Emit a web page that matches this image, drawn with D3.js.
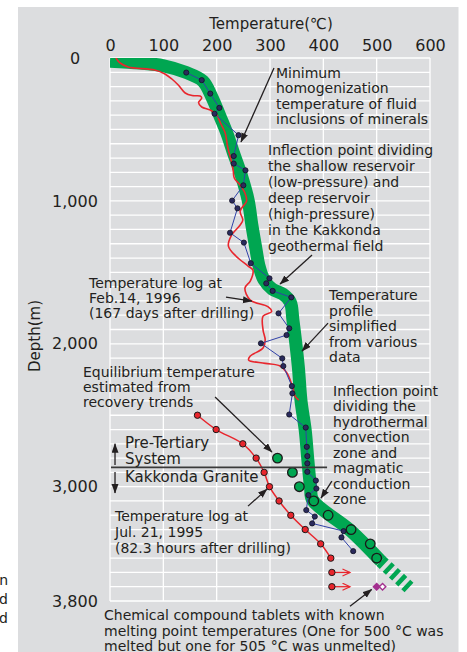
<!DOCTYPE html>
<html>
<head>
<meta charset="utf-8">
<script src="https://cdn.jsdelivr.net/npm/d3@7"></script>
<style>
  html, body { margin: 0; padding: 0; background: #ffffff; }
  svg { display: block; font-family: "DejaVu Sans", "Noto Sans CJK JP", sans-serif; }
</style>
</head>
<body>
<svg id="chart" width="467" height="652"></svg>
<script>
// ---- axes ----
const tempTicks = [0, 100, 200, 300, 400, 500, 600];
const depthTicks = [0, 1000, 2000, 3000, 3800];
const depthTickLabels = ["0", "1,000", "2,000", "3,000", "3,800"];

// ---- simplified temperature profile (°C, m) ----
const profileTemp  = [0, 56, 99, 143, 174, 191, 206, 219, 231, 246, 259, 266, 274, 279, 289, 304, 324, 338, 343, 353, 358, 366, 371, 376, 380, 450, 508];
const profileDepth = [22, 35, 53, 102, 161, 273, 406, 525, 658, 819, 994, 1169, 1344, 1449, 1554, 1617, 1652, 1708, 1834, 2156, 2394, 2604, 2814, 3003, 3094, 3304, 3521];
// inferred continuation below the last data (dashed)
const profileExtTemp  = [508, 562];
const profileExtDepth = [3521, 3710];

// ---- temperature log, Feb. 14, 1996 ----
const logFebTemp  = [11, 19, 34, 84, 103, 116, 128, 141, 154, 169, 172, 166, 172, 188, 199, 208, 216, 221, 227, 231, 233, 244, 253, 256, 244, 249, 244, 227, 222, 236, 259, 268, 263, 253, 263, 296, 303, 287, 287, 291, 287, 263, 260, 291, 319, 332, 343, 347, 354];
const logFebDepth = [0, 35, 63, 84, 112, 147, 189, 245, 263, 266, 280, 312, 343, 364, 392, 462, 525, 630, 714, 784, 840, 889, 945, 1001, 1071, 1134, 1169, 1246, 1316, 1386, 1456, 1484, 1561, 1610, 1694, 1740, 1775, 1806, 1904, 1974, 2030, 2086, 2114, 2137, 2156, 2205, 2310, 2366, 2394];

// ---- minimum homogenization temperature of fluid inclusions ----
const fiTemp  = [143, 172, 188, 205, 196, 241, 232, 232, 254, 250, 229, 239, 225, 251, 264, 299, 293, 305, 340, 316, 336, 331, 283, 323, 325, 341, 342, 336, 367, 369, 370, 370, 370, 386, 387, 372, 368, 384, 379, 438, 434, 456];
const fiDepth = [102, 155, 249, 349, 390, 540, 686, 739, 786, 891, 998, 1052, 1223, 1292, 1436, 1542, 1577, 1630, 1675, 1787, 1892, 1939, 1997, 2102, 2156, 2296, 2347, 2495, 2586, 2721, 2786, 2837, 2896, 2957, 3013, 3059, 3164, 3209, 3257, 3311, 3355, 3451];

// ---- temperature log, Jul. 21, 1995 ----
const logJulTemp  = [164, 199, 249, 274, 289, 299, 317, 339, 366, 395, 414, 416, 416];
const logJulDepth = [2500, 2600, 2700, 2800, 2900, 3000, 3100, 3200, 3300, 3400, 3500, 3600, 3700];
const logJulOpenEnded = [false, false, false, false, false, false, false, false, false, false, false, true, true];
const logJulArrowTo = 450;

// ---- equilibrium temperature from recovery trends ----
const eqTemp  = [314, 342, 355, 382, 409, 452, 488, 500];
const eqDepth = [2800, 2900, 3000, 3100, 3200, 3300, 3400, 3500];

// ---- melting-point tablets ----
const tabletTemp   = [500, 505];
const tabletDepth  = [3700, 3700];
const tabletMelted = [true, false];

// ---- geology ----
const granitTopDepth = 2865;
const granitLineEndTemp = 407;

// ---------------------------------------------------------------
const svg = d3.select("#chart");
const W = 467, H = 652;
const ink = "#231f20";
const green = "#00a651";
const red = "#e8262d";

const x = d3.scaleLinear().domain([0, 600]).range([110, 430]);
const y = d3.scaleLinear().domain([0, 3800]).range([58, 601]);

const defs = svg.append("defs");
defs.append("clipPath").attr("id", "plotClip")
  .append("rect").attr("x", x(0)).attr("y", y(0))
  .attr("width", x(600) - x(0)).attr("height", y(3800) - y(0));
defs.append("marker").attr("id", "headBlack")
  .attr("markerUnits", "userSpaceOnUse").attr("markerWidth", 10).attr("markerHeight", 8)
  .attr("refX", 9).attr("refY", 3.5).attr("orient", "auto")
  .append("path").attr("d", "M0,0 L9.5,3.5 L0,7 Z").attr("fill", ink);
defs.append("marker").attr("id", "headRed")
  .attr("markerUnits", "userSpaceOnUse").attr("markerWidth", 10).attr("markerHeight", 9)
  .attr("refX", 8).attr("refY", 4).attr("orient", "auto")
  .append("path").attr("d", "M0.5,0.5 L8,4 L0.5,7.5").attr("fill", "none")
  .attr("stroke", red).attr("stroke-width", 1.2);

// panel background
svg.append("rect").attr("x", 18).attr("y", 7).attr("width", 440.5).attr("height", H - 7)
  .attr("fill", "#dcdddf");

// grid
const grid = svg.append("g");
grid.selectAll("line.v").data(tempTicks).join("line")
  .attr("x1", d => x(d)).attr("x2", d => x(d))
  .attr("y1", y(0)).attr("y2", y(3800))
  .attr("stroke", "#ffffff").attr("stroke-width", 1.3);
grid.selectAll("line.h").data(d3.range(0, 3801, 100)).join("line")
  .attr("x1", x(0)).attr("x2", x(600))
  .attr("y1", d => y(d)).attr("y2", d => y(d))
  .attr("stroke", "#ffffff").attr("stroke-width", 1.3);

// top axis
const gx = svg.append("g").attr("transform", "translate(0,51)")
  .call(d3.axisTop(x).tickValues(tempTicks).tickSize(0).tickPadding(0));
gx.select(".domain").remove();
gx.selectAll("text").attr("font-size", 16).attr("fill", ink)
  .attr("font-family", "DejaVu Sans, sans-serif");

// left axis
const gy = svg.append("g")
  .call(d3.axisLeft(y).tickValues(depthTicks).tickSize(0)
    .tickFormat((d, i) => depthTickLabels[i]));
gy.select(".domain").remove();
gy.selectAll("text").attr("x", 75).attr("text-anchor", "middle")
  .attr("font-size", 16).attr("fill", ink).attr("font-family", "DejaVu Sans, sans-serif");

// axis titles
svg.append("text").attr("x", 271).attr("y", 29).attr("text-anchor", "middle")
  .attr("font-size", 15).attr("fill", ink).text("Temperature(℃)");
svg.append("text").attr("transform", "translate(40,336) rotate(-90)")
  .attr("text-anchor", "middle").attr("font-size", 15).attr("fill", ink).text("Depth(m)");

// plot layer
const plot = svg.append("g").attr("clip-path", "url(#plotClip)");

// simplified profile band
const bandLine = d3.line().x(d => x(d[0])).y(d => y(d[1])).curve(d3.curveCatmullRom.alpha(0.5));
plot.append("path").datum(profileTemp.map((t, i) => [t, profileDepth[i]]))
  .attr("d", bandLine).attr("fill", "none").attr("stroke", green)
  .attr("stroke-width", 13).attr("stroke-linejoin", "round");
plot.append("path").datum(profileExtTemp.map((t, i) => [t, profileExtDepth[i]]))
  .attr("d", d3.line().x(d => x(d[0])).y(d => y(d[1])))
  .attr("fill", "none").attr("stroke", green).attr("stroke-width", 13)
  .attr("stroke-dasharray", "4.5 4").attr("stroke-dashoffset", 8.5);

// temperature log Feb. 14, 1996
plot.append("path").datum(logFebTemp.map((t, i) => [t, logFebDepth[i]]))
  .attr("d", d3.line().x(d => x(d[0])).y(d => y(d[1])).curve(d3.curveCatmullRom.alpha(0.5)))
  .attr("fill", "none").attr("stroke", red).attr("stroke-width", 1.6);

// fluid inclusion temperatures
const fi = fiTemp.map((t, i) => [t, fiDepth[i]]);
plot.append("path").datum(fi)
  .attr("d", d3.line().x(d => x(d[0])).y(d => y(d[1])))
  .attr("fill", "none").attr("stroke", "#3142a8").attr("stroke-width", 1);
plot.selectAll("circle.fi").data(fi).join("circle")
  .attr("cx", d => x(d[0])).attr("cy", d => y(d[1])).attr("r", 2.6)
  .attr("fill", "#2a2a5c").attr("stroke", "#111122").attr("stroke-width", 0.8);

// temperature log Jul. 21, 1995
const jul = logJulTemp.map((t, i) => ({ t, d: logJulDepth[i], open: logJulOpenEnded[i] }));
plot.append("path").datum(jul.filter(p => !p.open))
  .attr("d", d3.line().x(p => x(p.t)).y(p => y(p.d)).curve(d3.curveCatmullRom.alpha(0.5)))
  .attr("fill", "none").attr("stroke", red).attr("stroke-width", 1.5);
plot.selectAll("line.open").data(jul.filter(p => p.open)).join("line")
  .attr("x1", p => x(p.t)).attr("x2", x(logJulArrowTo))
  .attr("y1", p => y(p.d)).attr("y2", p => y(p.d))
  .attr("stroke", red).attr("stroke-width", 1.3).attr("marker-end", "url(#headRed)");
plot.selectAll("circle.jul").data(jul).join("circle")
  .attr("cx", p => x(p.t)).attr("cy", p => y(p.d)).attr("r", 3.2)
  .attr("fill", red).attr("stroke", "#1a1a1a").attr("stroke-width", 1);

// equilibrium temperatures
plot.selectAll("circle.eq").data(eqTemp.map((t, i) => [t, eqDepth[i]])).join("circle")
  .attr("cx", d => x(d[0])).attr("cy", d => y(d[1])).attr("r", 4.8)
  .attr("fill", green).attr("stroke", "#1a1a1a").attr("stroke-width", 1.3);

// melting-point tablets (unmelted one dodged right so both stay visible)
const tablets = tabletTemp.map((t, i) => ({ t, d: tabletDepth[i], melted: tabletMelted[i] }));
plot.selectAll("path.tab").data(tablets).join("path")
  .attr("d", d3.symbol(d3.symbolSquare, 22)())
  .attr("transform", (p, i) => `translate(${x(p.t) + i * 3.2},${y(p.d)}) rotate(45)`)
  .attr("fill", p => p.melted ? "#a3308f" : "#ffffff")
  .attr("stroke", "#a3308f").attr("stroke-width", 1.4);

// granite boundary
svg.append("line").attr("x1", x(0) + 1).attr("x2", x(granitLineEndTemp))
  .attr("y1", y(granitTopDepth)).attr("y2", y(granitTopDepth))
  .attr("stroke", "#3a3a3a").attr("stroke-width", 1.6);

// leader arrows [fromT, fromD, toT, toD]
const leaders = [
  [307.5, 70, 245.6, 588],
  [378.8, 1379, 318.8, 1582],
  [217.5, 1673, 266, 1701],
  [408.8, 1855, 360, 2051],
  [197, 2373, 303.8, 2758],
  [416, 2961, 395.6, 3080],
  [258.8, 3136, 294.4, 3017],
  [450, 3836, 490.7, 3719],
  [9.4, 2849, 9.4, 2700],
  [9.4, 2898, 9.4, 3045]
];
svg.selectAll("line.lead").data(leaders).join("line")
  .attr("x1", d => x(d[0])).attr("y1", d => y(d[1]))
  .attr("x2", d => x(d[2])).attr("y2", d => y(d[3]))
  .attr("stroke", ink).attr("stroke-width", 1.3).attr("marker-end", "url(#headBlack)");

// text blocks
const notes = [
  { x: 276, y: 77.5, lh: 15.5, fs: 14, lines: ["Minimum", "homogenization", "temperature of fluid", "inclusions of minerals"] },
  { x: 268, y: 154.5, lh: 16, fs: 14, lines: ["Inflection point dividing", "the shallow reservoir", "(low-pressure) and", "deep reservoir", "(high-pressure)", "in the Kakkonda", "geothermal field"] },
  { x: 89, y: 288, lh: 15, fs: 14, lines: ["Temperature log at", "Feb.14, 1996", "(167 days after drilling)"] },
  { x: 329, y: 300, lh: 15.6, fs: 14, lines: ["Temperature", "profile", "simplified", "from various", "data"] },
  { x: 83, y: 377, lh: 15, fs: 14, lines: ["Equilibrium temperature", "estimated from", "recovery trends"] },
  { x: 333, y: 395.7, lh: 15.5, fs: 14, lines: ["Inflection point", "dividing the", "hydrothermal", "convection", "zone and", "magmatic", "conduction", "zone"] },
  { x: 125, y: 448, lh: 15.5, fs: 15, lines: ["Pre-Tertiary", "System"] },
  { x: 125, y: 481.7, lh: 15, fs: 15, lines: ["Kakkonda Granite"] },
  { x: 115, y: 520.7, lh: 16, fs: 14, lines: ["Temperature log at", "Jul. 21, 1995", "(82.3 hours after drilling)"] },
  { x: 104, y: 620, lh: 15.5, fs: 14, lines: ["Chemical compound tablets with known", "melting point temperatures (One for 500 °C was", "melted but one for 505 °C was unmelted)"] },
  { x: 8, y: 585, lh: 19, fs: 14, anchor: "end", lines: ["n", "d", "d"] }
];
notes.forEach(n => {
  const t = svg.append("text").attr("font-size", n.fs).attr("fill", ink)
    .attr("text-anchor", n.anchor || "start");
  n.lines.forEach((s, i) => {
    t.append("tspan").attr("x", n.x).attr("y", n.y + i * n.lh).text(s);
  });
});
</script>
</body>
</html>
